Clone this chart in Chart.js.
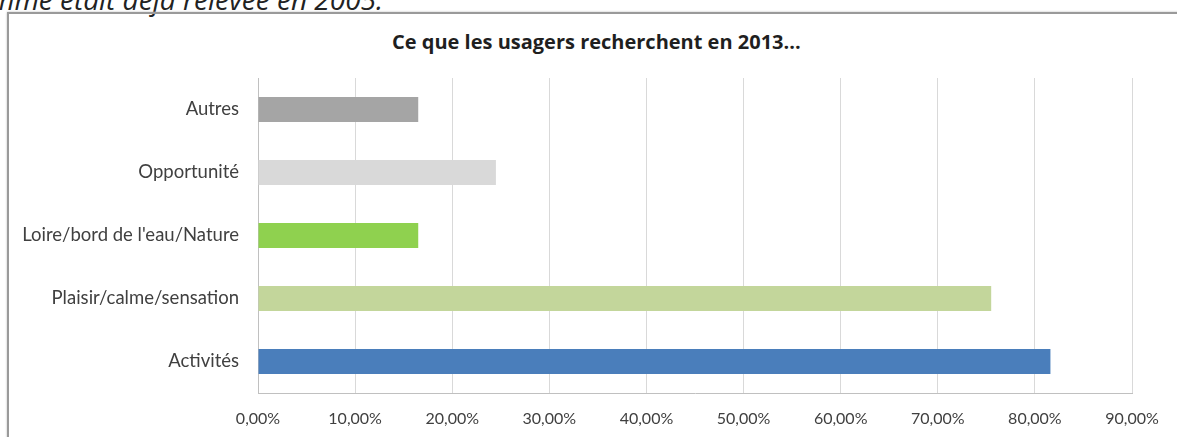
<!DOCTYPE html>
<html lang="fr">
<head>
    <meta charset="UTF-8">
    <title>Ce que les usagers recherchent en 2013</title>
    <script src="https://cdn.jsdelivr.net/npm/chart.js@4"></script>
    <style>
        html, body { margin: 0; padding: 0; background: #fff; overflow: hidden; }
        #page { position: relative; width: 1177px; height: 437px; overflow: hidden; }
        #intro {
            position: absolute; left: -10px; top: -20px;
            font-family: "Open Sans", sans-serif; font-style: italic; font-size: 28px;
            color: #222; white-space: nowrap;
        }
        #frame {
            position: absolute; left: 7px; top: 12px; width: 1200px; height: 500px;
            border: 2px solid #9a9a9a; box-shadow: 0 0 2px #bbb;
        }
        #title {
            position: absolute; left: 392px; top: 28px; width: 400px; text-align: center;
            font-family: "Open Sans", sans-serif; font-weight: bold; font-size: 20px;
            line-height: 28px; color: #1f1f1f; white-space: nowrap;
        }
        #wrap { position: absolute; left: 0; top: 0; width: 1177px; height: 437px; }
    </style>
</head>
<body>
<div id="page">
    <div id="intro">mme était déjà relevée en 2005.</div>
    <div id="frame"></div>
    <div id="title">Ce que les usagers recherchent en 2013...</div>
    <div id="wrap"><canvas id="chart"></canvas></div>
</div>

<script>
    const categories = ['Autres', 'Opportunité', "Loire/bord de l'eau/Nature", 'Plaisir/calme/sensation', 'Activités'];
    const shares = [16.5, 24.5, 16.5, 75.5, 81.6];
    const barColors = ['#a5a5a5', '#d9d9d9', '#8fd14f', '#c3d69b', '#4a7ebb'];
    const xTicks = [0, 10, 20, 30, 40, 50, 60, 70, 80, 90];

    const fmtPct = v => v.toFixed(2).replace('.', ',') + '%';

    new Chart(document.getElementById('chart'), {
        type: 'bar',
        data: {
            labels: categories,
            datasets: [{
                data: shares,
                backgroundColor: barColors,
                barPercentage: 0.8,
                categoryPercentage: 0.5
            }]
        },
        options: {
            indexAxis: 'y',
            responsive: true,
            maintainAspectRatio: false,
            animation: false,
            // title sits in the page above; leave room for it
            layout: { padding: { left: 0, right: 45, top: 78, bottom: 0 } },
            plugins: {
                legend: { display: false },
                tooltip: { enabled: false }
            },
            scales: {
                x: {
                    min: 0,
                    max: 90,
                    afterBuildTicks: s => { s.ticks = xTicks.map(v => ({ value: v })); },
                    afterFit: s => { s.height = 44; },
                    grid: { color: '#d9d9d9', drawTicks: false },
                    border: { color: '#c0c0c0' },
                    ticks: {
                        padding: 16,
                        color: '#404040',
                        font: { family: 'Lato', size: 16 },
                        callback: v => fmtPct(v)
                    }
                },
                y: {
                    afterFit: s => { s.width = 258; },
                    grid: { display: false },
                    border: { color: '#c0c0c0' },
                    ticks: {
                        padding: 11,
                        color: '#404040',
                        font: { family: 'Lato', size: 18.5 }
                    }
                }
            }
        }
    });
</script>
</body>
</html>
